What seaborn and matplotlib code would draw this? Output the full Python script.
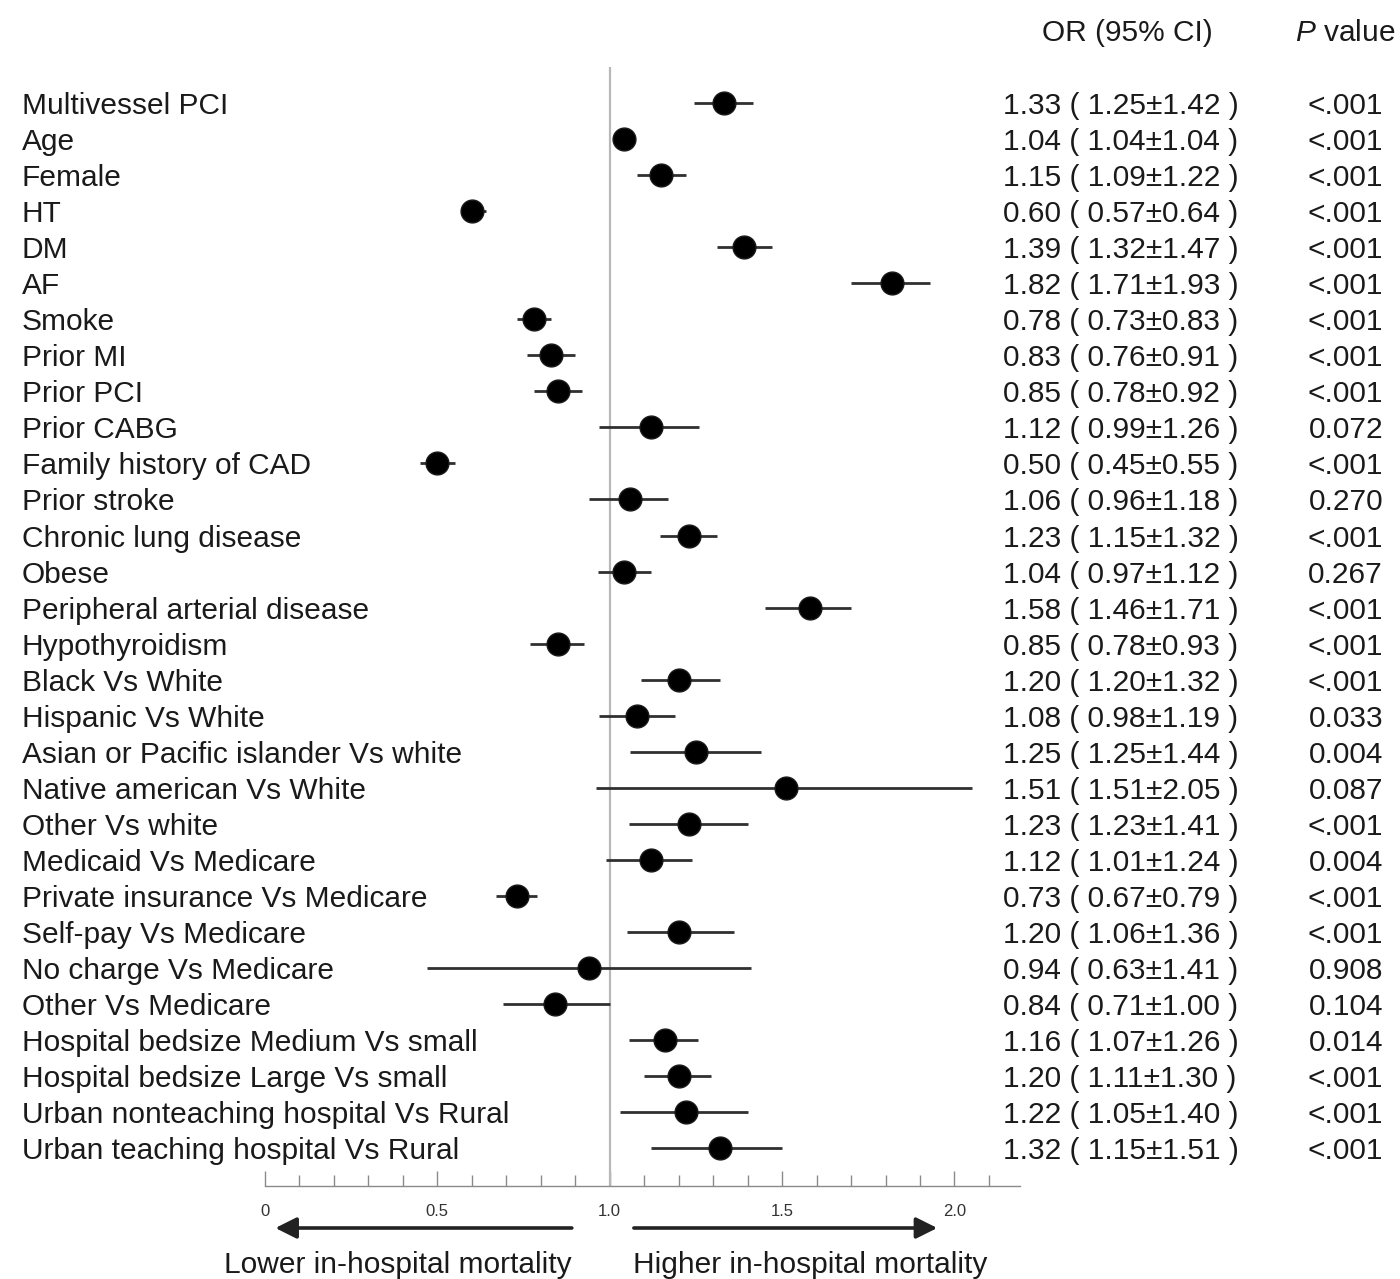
import matplotlib
matplotlib.use("Agg")
import matplotlib.pyplot as plt
from matplotlib.transforms import blended_transform_factory
from matplotlib.ticker import MultipleLocator, FixedLocator
import seaborn as sns
import pandas as pd
import numpy as np

labels = ["Multivessel PCI", "Age", "Female", "HT", "DM", "AF", "Smoke", "Prior MI",
          "Prior PCI", "Prior CABG", "Family history of CAD", "Prior stroke",
          "Chronic lung disease", "Obese", "Peripheral arterial disease", "Hypothyroidism",
          "Black Vs White", "Hispanic Vs White", "Asian or Pacific islander Vs white",
          "Native american Vs White", "Other Vs white", "Medicaid Vs Medicare",
          "Private insurance Vs Medicare", "Self-pay Vs Medicare", "No charge Vs Medicare",
          "Other Vs Medicare", "Hospital bedsize Medium Vs small",
          "Hospital bedsize Large Vs small", "Urban nonteaching hospital Vs Rural",
          "Urban teaching hospital Vs Rural"]

odds = [1.33, 1.04, 1.15, 0.60, 1.39, 1.82, 0.78, 0.83, 0.85, 1.12, 0.50, 1.06, 1.23, 1.04, 1.58,
        0.85, 1.20, 1.08, 1.25, 1.51, 1.23, 1.12, 0.73, 1.20, 0.94, 0.84, 1.16, 1.20, 1.22, 1.32]

# CI as drawn in the plot
plot_lo = [1.245, 1.04, 1.08, 0.57, 1.31, 1.70, 0.73, 0.76, 0.78, 0.97, 0.45, 0.94, 1.145, 0.965,
           1.45, 0.77, 1.09, 0.97, 1.06, 0.96, 1.055, 0.99, 0.67, 1.05, 0.47, 0.69, 1.055, 1.10,
           1.03, 1.12]
plot_hi = [1.415, 1.04, 1.22, 0.64, 1.47, 1.93, 0.83, 0.90, 0.92, 1.26, 0.55, 1.17, 1.31, 1.12,
           1.70, 0.925, 1.32, 1.19, 1.44, 2.05, 1.40, 1.24, 0.79, 1.36, 1.41, 1.00, 1.255, 1.295,
           1.40, 1.50]

# CI as printed in the table
ci_lo_text = ["1.25", "1.04", "1.09", "0.57", "1.32", "1.71", "0.73", "0.76", "0.78", "0.99",
              "0.45", "0.96", "1.15", "0.97", "1.46", "0.78", "1.20", "0.98", "1.25", "1.51",
              "1.23", "1.01", "0.67", "1.06", "0.63", "0.71", "1.07", "1.11", "1.05", "1.15"]
ci_hi_text = ["1.42", "1.04", "1.22", "0.64", "1.47", "1.93", "0.83", "0.91", "0.92", "1.26",
              "0.55", "1.18", "1.32", "1.12", "1.71", "0.93", "1.32", "1.19", "1.44", "2.05",
              "1.41", "1.24", "0.79", "1.36", "1.41", "1.00", "1.26", "1.30", "1.40", "1.51"]
p_values = ["<.001", "<.001", "<.001", "<.001", "<.001", "<.001", "<.001", "<.001", "<.001",
            "0.072", "<.001", "0.270", "<.001", "0.267", "<.001", "<.001", "<.001", "0.033",
            "0.004", "0.087", "<.001", "0.004", "<.001", "<.001", "0.908", "0.104", "0.014",
            "<.001", "<.001", "<.001"]

tick_values = [0, 0.5, 1.0, 1.5, 2.0]
tick_labels = ["0", "0.5", "1.0", "1.5", "2.0"]

sns.set_style("white")
plt.rcParams["font.family"] = ["Liberation Sans", "DejaVu Sans"]
plt.rcParams["mathtext.fontset"] = "custom"
plt.rcParams["mathtext.it"] = "Liberation Sans:italic"
plt.rcParams["mathtext.rm"] = "Liberation Sans"

W, H = 1400, 1279
fig = plt.figure(figsize=(W / 100, H / 100), dpi=100)
ax_left, ax_right = 265 / W, 1020 / W
ax_top_px, ax_bot_px = 67, 1186
ax = fig.add_axes([ax_left, 1 - ax_bot_px / H, ax_right - ax_left, (ax_bot_px - ax_top_px) / H])

df = pd.DataFrame({"label": labels, "odds": odds, "lo": plot_lo, "hi": plot_hi})
df["row"] = np.arange(len(df))

ax.axvline(1.0, color="#b8b8b8", lw=1.6, zorder=1)
ax.hlines(df["row"], df["lo"], df["hi"], color="#303030", lw=2.0, zorder=2)
sns.scatterplot(data=df, x="odds", y="row", ax=ax, color="black", s=270,
                edgecolor="#1a1a1a", linewidth=1.0, zorder=3, legend=False)

ax.set_xlim(0, 2.19)
ax.set_ylim(len(df) - 1 + 1.05, -1)
ax.set_xlabel("")
ax.set_ylabel("")
ax.set_yticks([])
for s in ["left", "top", "right"]:
    ax.spines[s].set_visible(False)
ax.spines["bottom"].set_color("#8a8a8a")
ax.spines["bottom"].set_linewidth(1.0)
ax.xaxis.set_major_locator(FixedLocator(tick_values))
ax.set_xticklabels(tick_labels, fontsize=12, color="#333333")
ax.xaxis.set_minor_locator(MultipleLocator(0.1))
ax.tick_params(axis="x", which="both", bottom=True)
ax.tick_params(axis="x", which="major", direction="in", length=11, width=1, color="#8a8a8a", pad=13)
ax.tick_params(axis="x", which="minor", direction="in", length=8, width=1, color="#8a8a8a")
ax.patch.set_alpha(0)

txt_color = "#1a1a1a"
fs = 21.5
tr = blended_transform_factory(fig.transFigure, ax.transData)
for i in range(len(df)):
    ax.text(22 / W, i, labels[i], transform=tr, ha="left", va="center_baseline", fontsize=fs,
            color=txt_color, clip_on=False)
    ax.text(1003 / W, i, f"{odds[i]:.2f} ( {ci_lo_text[i]}\u00b1{ci_hi_text[i]} )", transform=tr,
            ha="left", va="center_baseline", fontsize=fs, color=txt_color, clip_on=False)
    ax.text(1383 / W, i, p_values[i], transform=tr, ha="right", va="center_baseline", fontsize=fs,
            color=txt_color, clip_on=False)

fig.text(1127 / W, 1 - 30 / H, "OR (95% CI)", ha="center", va="center_baseline", fontsize=fs,
         color=txt_color)
fig.text(1395 / W, 1 - 30 / H, "$P$ value", ha="right", va="center_baseline", fontsize=fs,
         color=txt_color)

# direction arrows and captions below the axis
tra = blended_transform_factory(ax.transData, ax.transAxes)
def yfrac(ypx):
    return (ax_bot_px - ypx) / (ax_bot_px - ax_top_px)

ax.annotate("", xy=(0.03, yfrac(1228)), xytext=(0.89, yfrac(1228)), xycoords=tra, textcoords=tra,
            arrowprops=dict(arrowstyle="-|>", color="#222222", lw=2.6, mutation_scale=32,
                            shrinkA=0, shrinkB=0), annotation_clip=False)
ax.annotate("", xy=(1.95, yfrac(1228)), xytext=(1.07, yfrac(1228)), xycoords=tra, textcoords=tra,
            arrowprops=dict(arrowstyle="-|>", color="#222222", lw=2.6, mutation_scale=32,
                            shrinkA=0, shrinkB=0), annotation_clip=False)
ax.text((398 - 265) / 345, yfrac(1262), "Lower in-hospital mortality", transform=tra, ha="center",
        va="center_baseline", fontsize=fs, color=txt_color, clip_on=False)
ax.text((811 - 265) / 345, yfrac(1262), "Higher in-hospital mortality", transform=tra, ha="center",
        va="center_baseline", fontsize=fs, color=txt_color, clip_on=False)

fig.savefig("out.png", dpi=100, facecolor="white")
